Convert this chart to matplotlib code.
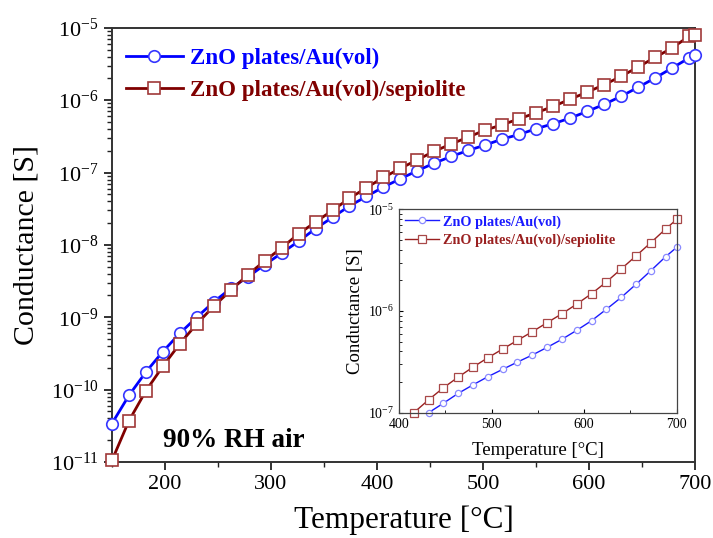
import numpy as np
import matplotlib
matplotlib.use('Agg')
import matplotlib.pyplot as plt
from matplotlib.ticker import LogLocator, MultipleLocator, NullFormatter

plt.rcParams['font.family'] = ['Liberation Serif', 'DejaVu Serif']
plt.rcParams['mathtext.fontset'] = 'custom'
plt.rcParams['mathtext.rm'] = 'Liberation Serif'
plt.rcParams['mathtext.it'] = 'Liberation Serif:italic'

# main plot data
temp = [150, 166, 182, 198, 214, 230, 246, 262, 278, 294, 310, 326, 342, 358, 374, 390, 406, 422,
        438, 454, 470, 486, 502, 518, 534, 550, 566, 582, 598, 614, 630, 646, 662, 678, 694, 700]

g_au = [3.4e-11, 8.3e-11, 1.75e-10, 3.35e-10, 6.0e-10, 1.0e-9, 1.63e-9, 2.5e-9, 3.6e-9, 5.3e-9,
        7.7e-9, 1.12e-8, 1.68e-8, 2.4e-8, 3.45e-8, 4.67e-8, 6.3e-8, 8.2e-8, 1.06e-7, 1.35e-7,
        1.67e-7, 2.02e-7, 2.40e-7, 2.9e-7, 3.36e-7, 4.03e-7, 4.72e-7, 5.65e-7, 6.98e-7, 8.73e-7,
        1.13e-6, 1.5e-6, 2.02e-6, 2.77e-6, 3.81e-6, 4.23e-6]

g_sep = [1.05e-11, 3.7e-11, 9.6e-11, 2.1e-10, 4.3e-10, 8.1e-10, 1.42e-9, 2.35e-9, 3.85e-9, 6.0e-9,
         9.1e-9, 1.42e-8, 2.07e-8, 3.0e-8, 4.4e-8, 6.17e-8, 8.55e-8, 1.14e-7, 1.5e-7, 1.97e-7,
         2.48e-7, 3.09e-7, 3.86e-7, 4.57e-7, 5.53e-7, 6.7e-7, 8.19e-7, 1.03e-6, 1.29e-6, 1.63e-6,
         2.13e-6, 2.86e-6, 3.89e-6, 5.24e-6, 7.6e-6, 8.0e-6]

# inset data
temp_in_au = [432, 448, 464, 480, 496, 512, 528, 544, 560, 576, 592, 608, 624, 640, 656, 672, 688, 700]
g_in_au = [1.0e-7, 1.24e-7, 1.55e-7, 1.88e-7, 2.26e-7, 2.67e-7, 3.15e-7, 3.69e-7, 4.39e-7, 5.27e-7,
           6.46e-7, 8.03e-7, 1.04e-6, 1.36e-6, 1.83e-6, 2.49e-6, 3.42e-6, 4.23e-6]

temp_in_sep = [416, 432, 448, 464, 480, 496, 512, 528, 544, 560, 576, 592, 608, 624, 640, 656, 672, 688, 700]
g_in_sep = [1.0e-7, 1.34e-7, 1.76e-7, 2.24e-7, 2.81e-7, 3.47e-7, 4.23e-7, 5.15e-7, 6.26e-7, 7.68e-7,
            9.4e-7, 1.17e-6, 1.48e-6, 1.93e-6, 2.59e-6, 3.48e-6, 4.7e-6, 6.4e-6, 7.97e-6]

labels = ['ZnO plates/Au(vol)', 'ZnO plates/Au(vol)/sepiolite']
main_xticks = [200, 300, 400, 500, 600, 700]
main_yticks = [1e-11, 1e-10, 1e-9, 1e-8, 1e-7, 1e-6, 1e-5]
inset_xticks = [400, 500, 600, 700]
inset_yticks = [1e-7, 1e-6, 1e-5]

blue = '#0000ff'
red = '#800000'

fig = plt.figure(figsize=(7.13, 5.38), dpi=100)
ax = fig.add_axes([0.157, 0.1413, 0.818, 0.807])

ax.plot(temp, g_au, color=blue, lw=2, marker='o', ms=8.3, mfc='white', mec='#3535ff', mew=1.2,
        label=labels[0], clip_on=False, zorder=3)
ax.plot(temp, g_sep, color=red, lw=2, marker='s', ms=8.8, mfc='white', mec='#a03838', mew=1.2,
        label=labels[1], clip_on=False, zorder=3)

ax.set_yscale('log')
ax.set_xlim(150, 700)
ax.set_ylim(1e-11, 1e-5)
ax.set_xticks(main_xticks)
ax.set_yticks(main_yticks)
ax.xaxis.set_minor_locator(MultipleLocator(50))
ax.yaxis.set_minor_locator(LogLocator(base=10, subs=np.arange(2, 10), numticks=20))
ax.yaxis.set_minor_formatter(NullFormatter())
ax.tick_params(axis='both', which='major', direction='out', length=6, width=1.3,
               labelsize=16, colors='#222222', labelcolor='black')
ax.tick_params(axis='both', which='minor', direction='out', length=3.5, width=1.0, colors='#222222')
for sp in ax.spines.values():
    sp.set_linewidth(1.4)
    sp.set_color('#333333')

ax.set_xlabel('Temperature [°C]', fontsize=22.5, labelpad=8)
ax.set_ylabel('Conductance [S]', fontsize=21.5, labelpad=8)

ax.legend(loc='upper left', bbox_to_anchor=(0.0, 0.985), frameon=False,
          prop={'weight': 'bold', 'size': 16.5}, handlelength=2.5, handletextpad=0.3,
          labelspacing=0.45, borderaxespad=0.2, labelcolor='linecolor')

ax.text(0.087, 0.035, '90% RH air', transform=ax.transAxes, fontsize=19.5, fontweight='bold')

# inset
axi = fig.add_axes([0.5596, 0.2329, 0.3895, 0.378])
axi.plot(temp_in_au, g_in_au, color='#1a1aff', lw=1, marker='o', ms=4.5, mfc='white',
         mec='#8a8aff', mew=0.9, label=labels[0], clip_on=False)
axi.plot(temp_in_sep, g_in_sep, color='#9a2020', lw=1, marker='s', ms=5.2, mfc='white',
         mec='#a84848', mew=0.9, label=labels[1], clip_on=False)
axi.set_yscale('log')
axi.set_xlim(400, 700)
axi.set_ylim(1e-7, 1e-5)
axi.set_xticks(inset_xticks)
axi.set_yticks(inset_yticks)
axi.xaxis.set_minor_locator(MultipleLocator(50))
axi.yaxis.set_minor_locator(LogLocator(base=10, subs=np.arange(2, 10), numticks=20))
axi.yaxis.set_minor_formatter(NullFormatter())
axi.tick_params(axis='both', which='major', direction='in', length=3, width=0.8, labelsize=10)
axi.tick_params(axis='both', which='minor', direction='in', length=2, width=0.6)
for sp in axi.spines.values():
    sp.set_linewidth(0.9)
    sp.set_color('#444444')
axi.set_xlabel('Temperature [°C]', fontsize=13.5, labelpad=8)
axi.set_ylabel('Conductance [S]', fontsize=13.5, labelpad=3)
axi.legend(loc='upper left', frameon=False, prop={'weight': 'bold', 'size': 10.3},
           handlelength=2.4, handletextpad=0.3, labelspacing=0.35, borderaxespad=0.15,
           borderpad=0.25, labelcolor='linecolor')

plt.savefig('out.png', dpi=100)
